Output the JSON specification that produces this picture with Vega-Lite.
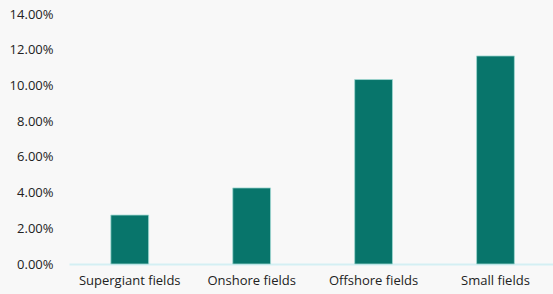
{
  "$schema": "https://vega.github.io/schema/vega-lite/v6.json",
  "width": 484,
  "height": 250,
  "autosize": {"type": "none"},
  "padding": {"left": 69, "top": 14, "right": 0, "bottom": 30},
  "background": "#f8f8f8",
  "config": {
    "view": {"stroke": null},
    "font": "Open Sans",
    "axis": {"labelFont": "Open Sans", "labelFontSize": 13, "labelColor": "#222222", "grid": false, "ticks": false, "title": null}
  },
  "data": {
    "values": [
      {"category": "Supergiant fields", "value": 0.0274},
      {"category": "Onshore fields", "value": 0.0426},
      {"category": "Offshore fields", "value": 0.1033},
      {"category": "Small fields", "value": 0.1165}
    ]
  },
  "mark": {"type": "bar", "color": "#08756b", "stroke": "#9fd8d2", "strokeWidth": 0.8},
  "encoding": {
    "x": {
      "field": "category",
      "type": "nominal",
      "sort": null,
      "scale": {"paddingInner": 0.69, "paddingOuter": 0.33, "align": 0.52},
      "axis": {"labelAngle": 0, "domainColor": "#d4eff3", "domainWidth": 2, "labelPadding": 10}
    },
    "y": {
      "field": "value",
      "type": "quantitative",
      "scale": {"domain": [0, 0.14]},
      "axis": {"format": ".2%", "values": [0, 0.02, 0.04, 0.06, 0.08, 0.1, 0.12, 0.14], "domain": false, "labelPadding": 16}
    }
  }
}
